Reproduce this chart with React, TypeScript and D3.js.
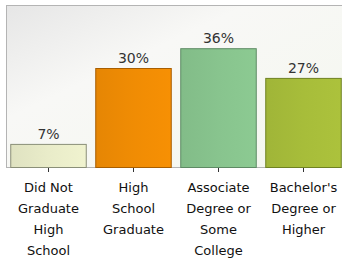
import React from "react";
import * as d3 from "d3";

const categories = [
  ["Did Not", "Graduate", "High", "School"],
  ["High", "School", "Graduate"],
  ["Associate", "Degree or", "Some", "College"],
  ["Bachelor's", "Degree or", "Higher"],
];
const values = [7, 30, 36, 27];
const labels = ["7%", "30%", "36%", "27%"];
const fills = ["#e9ecc9", "#f08c04", "#88c48e", "#a7bd3a"];
const strokes = ["#8a8f78", "#a85e00", "#5e8a64", "#6f8222"];

export default function App() {
  const W = 342, H = 262;
  const base = 167;
  const x = d3.scaleBand<number>().domain([0, 1, 2, 3]).range([6, 346]).paddingInner(0.1).paddingOuter(0.05);
  const y = d3.scaleLinear().domain([0, 40]).range([base, base - 132]);
  return (
    <svg width={W} height={H} style={{ position: "absolute", left: 0, top: 0 }}>
      <defs>
        <linearGradient id="bg" x1="0" y1="0" x2="1" y2="1">
          <stop offset="0" stopColor="#e6e6e6" />
          <stop offset="0.35" stopColor="#f8f8f6" />
          <stop offset="1" stopColor="#f4f7ee" />
        </linearGradient>
        {fills.map((f, i) => (
          <linearGradient key={i} id={"g" + i} x1="0" y1="0" x2="1" y2="0">
            <stop offset="0" stopColor={d3.color(f)!.darker(0.12).toString()} />
            <stop offset="0.5" stopColor={f} />
            <stop offset="1" stopColor={d3.color(f)!.brighter(0.08).toString()} />
          </linearGradient>
        ))}
      </defs>
      <rect x={0} y={0} width={W} height={H} fill="#ffffff" />
      <rect x={6.5} y={5.5} width={W} height={base - 5} fill="url(#bg)" stroke="#b4b4b4" strokeWidth={1} />
      {values.map((v, i) => (
        <g key={i}>
          <rect
            x={x(i)! + 0.5}
            y={y(v) + 0.5}
            width={x.bandwidth() - 1}
            height={base - y(v)}
            fill={`url(#g${i})`}
            stroke={strokes[i]}
            strokeWidth={1}
          />
          <line x1={x(i)! + x.bandwidth() / 2} x2={x(i)! + x.bandwidth() / 2} y1={base + 1} y2={base + 5} stroke="#333" strokeWidth={1} />
          <text
            x={x(i)! + x.bandwidth() / 2}
            y={y(v) - 5}
            textAnchor="middle"
            fontFamily="DejaVu Sans, Verdana, sans-serif"
            fontSize={14}
            fill="#333"
          >
            {labels[i]}
          </text>
          <text
            x={x(i)! + x.bandwidth() / 2}
            y={192}
            textAnchor="middle"
            fontFamily="DejaVu Sans, Verdana, sans-serif"
            fontSize={13}
            fill="#111"
          >
            {categories[i].map((t, j) => (
              <tspan key={j} x={x(i)! + x.bandwidth() / 2} dy={j === 0 ? 0 : 21}>
                {t}
              </tspan>
            ))}
          </text>
        </g>
      ))}
    </svg>
  );
}
